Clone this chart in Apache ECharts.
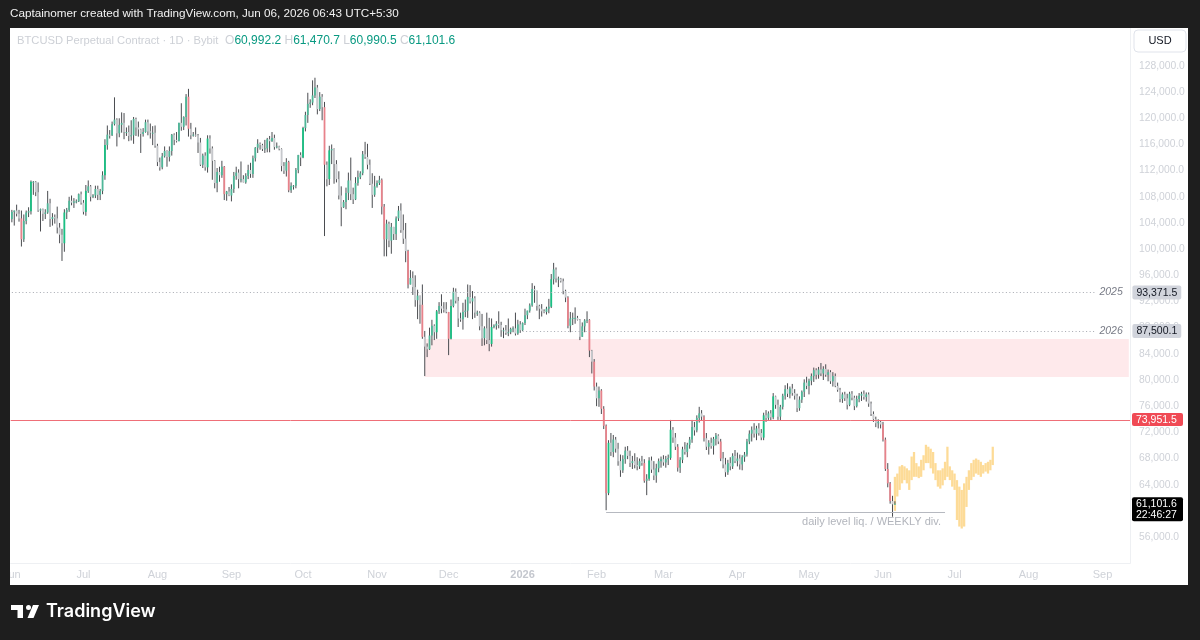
<!DOCTYPE html>
<html>
<head>
<meta charset="utf-8">
<title>BTCUSD Perpetual Contract · 1D · Bybit</title>
<script src="https://cdn.jsdelivr.net/npm/echarts@6/dist/echarts.min.js"></script>
<style>
  html, body { margin: 0; padding: 0; background: #1e1e1e; }
  #chart { width: 1200px; height: 640px; }
</style>
</head>
<body>
<div id="chart"></div>
<script>
// daily candles in thousands of USD, one [high, low, close] per day
// (open of each day = close of the day before)
const firstOpen = 104.6;

const jun25 = [
  [106.0,104.1,105.7],[105.9,103.6,105.9],[106.8,105.0,105.4],[106.0,104.2,104.7],[105.9,100.4,101.5],
  [105.3,101.1,104.3],[105.9,103.8,105.6],[106.4,104.9,105.8],[110.5,105.3,110.3],[110.4,108.3,110.3],
  [110.4,108.1,108.7],[110.2,105.7,105.9],[106.2,102.7,106.1],[106.2,104.3,105.4],[106.1,104.6,105.6],
  [108.9,105.4,107.0],[107.7,103.4,104.6],[105.5,103.6,104.9],[105.3,103.9,104.7],[106.5,102.4,103.3],
  [104.0,100.9,102.2],[103.1,98.2,100.9],[106.1,99.6,105.6],[106.3,104.6,106.0],[108.0,105.7,107.4],
  [108.2,106.7,107.1],[107.8,106.3,107.3],[107.6,107.0,107.3],[108.5,107.2,108.4],[108.8,106.8,107.1]
];
const jul25 = [
  [107.5,105.3,105.7],[109.8,105.1,108.9],[110.5,108.6,109.6],[109.8,107.3,108.0],[108.4,107.8,108.2],
  [109.7,107.8,109.2],[109.7,107.5,108.3],[109.2,107.5,108.9],[111.9,108.4,111.3],[116.8,110.6,115.9],
  [118.9,115.2,117.5],[118.2,116.9,117.4],[119.5,117.3,119.1],[123.2,118.9,119.8],[120.0,115.7,117.7],
  [120.0,117.1,119.0],[120.9,117.8,119.3],[120.8,116.8,117.9],[118.6,117.3,117.9],[118.9,116.5,117.3],
  [119.7,116.6,117.4],[120.2,116.1,119.9],[120.1,117.3,118.6],[119.5,117.2,118.3],[118.4,114.7,117.6],
  [118.5,117.2,117.9],[119.8,117.8,119.4],[119.8,117.4,118.0],[119.2,116.9,117.8],[118.8,115.9,117.8],
  [118.9,115.5,115.8]
];
const aug25 = [
  [116.1,112.7,113.3],[114.0,112.0,112.5],[114.7,112.2,114.2],[115.7,114.0,115.0],[115.1,112.6,114.1],
  [115.7,113.4,115.0],[117.6,114.3,117.5],[117.7,115.9,116.7],[117.9,116.3,116.5],[119.3,116.5,119.3],
  [122.3,118.1,118.7],[120.3,118.2,120.2],[123.7,118.9,123.3],[124.5,117.2,118.4],[119.3,116.8,117.4],
  [117.9,117.2,117.5],[118.6,117.2,117.4],[117.6,114.7,116.3],[117.0,112.7,112.9],[114.6,112.4,114.3],
  [114.8,112.0,112.5],[117.4,111.7,116.9],[117.4,114.6,115.4],[115.7,110.6,113.5],[113.6,109.3,110.1],
  [112.4,108.7,111.8],[112.6,110.3,111.3],[113.5,110.9,112.6],[112.7,107.5,108.4],[108.9,107.4,108.8],
  [109.5,108.1,108.2]
];
const sep25 = [
  [109.9,107.3,109.2],[111.8,108.6,111.2],[112.6,110.6,111.7],[112.2,109.3,110.7],[113.4,110.2,110.7],
  [111.3,110.2,110.2],[111.6,110.0,111.2],[112.9,110.7,112.1],[113.2,110.9,111.5],[114.3,110.9,113.9],
  [115.6,113.4,115.5],[116.8,114.7,116.1],[116.3,115.2,115.9],[116.1,115.0,115.3],[116.7,114.7,115.4],
  [117.0,114.8,116.8],[117.3,114.8,116.5],[117.9,116.4,117.0],[117.5,115.2,115.6],[116.3,115.4,115.7],
  [115.8,115.1,115.3],[115.4,111.9,112.7],[113.3,111.5,112.0],[113.9,111.1,113.3],[113.5,108.7,109.0],
  [110.2,108.6,109.7],[109.8,109.1,109.7],[112.4,109.3,112.1],[114.4,111.6,114.4],[114.8,112.7,114.0]
];
const oct25 = [
  [118.7,113.9,118.5],[121.0,118.0,120.5],[123.9,119.3,122.2],[122.9,121.6,122.4],[125.8,122.0,123.5],
  [126.2,123.1,124.7],[125.1,120.6,121.4],[124.0,121.1,123.3],[123.7,119.7,121.7],[122.5,102.0,112.9],
  [113.4,109.6,110.7],[115.8,109.8,115.1],[116.0,113.0,115.3],[115.4,110.0,113.0],[113.6,110.2,110.7],
  [111.9,107.6,108.2],[109.6,103.5,106.4],[107.5,106.3,107.2],[109.4,106.1,108.6],[111.7,107.5,110.5],
  [114.0,107.5,108.4],[109.4,106.9,107.6],[111.0,107.5,110.1],[112.0,109.7,111.0],[111.9,110.7,111.6],
  [115.0,111.3,114.5],[116.4,113.8,114.1],[116.1,112.2,112.9],[113.7,109.8,110.0],[111.6,106.3,108.3],
  [111.2,108.0,109.6]
];
const nov25 = [
  [110.5,109.4,110.1],[111.2,109.8,110.6],[110.8,105.3,106.5],[106.9,98.9,101.5],[104.5,98.9,103.9],
  [104.2,100.3,101.3],[104.0,99.3,103.4],[103.4,101.4,102.3],[105.0,101.4,104.7],[106.6,104.3,105.9],
  [107.0,102.5,102.9],[105.3,100.8,101.6],[104.0,98.0,99.7],[99.9,94.0,94.6],[96.8,94.6,95.6],
  [96.6,93.0,94.2],[96.0,91.2,92.2],[93.8,89.3,92.9],[92.9,88.6,91.5],[94.6,86.3,86.6],
  [87.5,80.6,85.1],[85.6,83.5,84.7],[88.0,84.6,86.8],[89.2,85.3,88.3],[88.5,86.1,87.3],
  [90.7,86.3,90.5],[91.9,90.1,91.3],[93.1,90.2,90.9],[91.9,90.3,90.8],[91.9,90.2,90.4]
];
const dec25 = [
  [90.4,83.8,86.3],[92.3,86.2,91.3],[94.1,91.1,93.5],[94.0,91.7,92.1],[92.7,88.1,89.4],
  [90.3,88.9,89.3],[91.8,87.7,90.4],[92.3,89.6,90.6],[94.6,89.5,92.7],[94.5,91.7,92.0],
  [93.6,89.3,92.5],[92.8,89.5,90.3],[90.6,89.8,90.3],[90.5,87.6,88.2],[90.1,85.2,86.4],
  [88.2,85.3,87.9],[90.3,85.5,86.1],[89.5,84.4,85.5],[89.4,85.1,88.1],[88.5,87.9,88.3],
  [89.0,87.7,88.6],[90.5,87.9,88.4],[88.9,86.6,87.6],[88.0,86.4,87.6],[88.4,86.9,87.2],
  [89.4,86.7,87.3],[88.0,87.0,87.8],[88.2,87.3,87.9],[90.3,86.8,87.1],[89.2,86.9,88.5],
  [89.0,87.2,87.6]
];
const jan26 = [
  [88.8,87.5,88.7],[90.9,88.4,89.9],[90.6,89.3,90.6],[91.7,90.3,91.4],[94.8,91.2,93.9],
  [94.4,91.8,93.7],[93.6,90.6,91.3],[91.5,89.3,90.9],[91.6,89.7,90.5],[90.8,90.2,90.4],
  [91.2,90.0,90.9],[92.4,90.2,91.2],[96.2,91.0,95.4],[97.9,94.6,96.9],[97.2,94.9,95.5],
  [95.8,94.2,95.5],[95.6,94.9,95.1],[95.5,93.1,93.6],[93.8,91.9,92.6],[92.8,87.9,88.3],
  [90.4,87.3,89.4],[90.3,88.4,89.5],[91.1,88.6,89.5],[89.8,89.1,89.2],[89.3,86.1,86.6],
  [88.8,86.6,88.2],[89.3,87.3,89.1],[90.5,88.7,89.2],[89.3,83.5,84.5],[84.6,81.0,82.8],
  [83.2,78.4,79.0]
];
const feb26 = [
  [79.6,76.0,77.2],[79.0,75.9,78.4],[78.6,74.8,75.6],[76.0,72.5,73.0],[73.2,60.1,62.7],
  [70.8,62.4,70.4],[71.9,68.4,69.0],[71.6,68.2,70.9],[71.3,68.9,69.5],[70.4,66.9,67.6],
  [68.6,65.2,66.2],[68.5,65.8,67.9],[69.8,67.2,69.2],[69.9,67.9,68.4],[69.2,66.7,67.3],
  [68.4,66.4,67.6],[68.8,66.5,67.0],[68.2,66.2,66.8],[68.0,66.4,67.6],[68.4,66.9,67.3],
  [67.9,64.3,64.6],[65.6,62.4,64.9],[68.2,64.6,67.7],[68.3,65.8,66.3],[67.6,64.7,65.4],
  [67.2,64.3,66.5],[68.0,65.9,67.6],[68.3,66.6,67.9]
];
const mar26 = [
  [68.5,66.9,67.4],[68.4,66.6,67.9],[68.6,67.0,68.1],[73.9,67.8,72.4],[72.8,70.4,71.2],
  [71.9,69.3,69.8],[70.2,66.0,66.6],[68.2,65.8,67.8],[69.8,67.3,69.4],[70.5,68.6,69.0],
  [70.4,68.2,70.1],[71.3,69.5,70.9],[73.9,70.4,72.8],[73.6,71.5,72.3],[74.6,72.0,74.2],
  [75.9,73.5,74.9],[75.4,73.8,74.4],[74.6,70.6,71.1],[71.9,69.3,69.8],[70.8,68.6,70.4],
  [71.2,69.5,69.9],[71.3,68.6,71.0],[71.9,70.0,71.5],[71.7,70.2,70.6],[71.0,67.6,68.0],
  [69.0,66.5,67.1],[68.1,65.2,65.9],[67.8,65.5,67.3],[68.2,66.2,66.8],[68.8,66.4,68.4],
  [69.3,67.3,67.6]
];
const apr26 = [
  [68.9,66.8,68.0],[68.6,66.3,67.1],[68.5,66.2,68.2],[69.0,67.5,68.6],[71.0,68.3,70.6],
  [72.3,70.2,71.8],[72.9,70.6,72.4],[73.4,71.2,71.8],[73.0,70.8,72.6],[73.4,71.5,71.9],
  [72.5,70.8,71.2],[75.0,70.8,74.6],[75.4,73.6,74.2],[75.2,73.9,74.9],[75.4,73.8,74.3],
  [78.0,74.0,77.5],[77.6,75.6,76.2],[77.0,73.9,74.4],[76.2,73.8,75.9],[77.9,75.5,77.6],
  [79.2,77.0,78.6],[79.5,77.4,77.9],[79.0,77.2,78.7],[79.4,77.6,78.0],[78.6,77.0,77.6],
  [77.9,75.1,75.7],[77.5,75.3,77.0],[78.4,76.5,78.2],[80.1,77.4,79.6],[80.5,78.6,79.1]
];
const may26 = [
  [80.2,77.8,79.9],[81.0,79.2,80.6],[81.9,79.7,81.5],[81.8,80.1,80.8],[82.0,80.2,81.6],
  [82.6,80.6,81.0],[82.1,80.0,81.7],[82.4,80.5,80.8],[81.6,79.8,81.2],[81.5,79.4,79.8],
  [81.2,79.0,80.6],[81.0,78.9,79.1],[79.6,78.2,78.5],[78.8,76.6,77.1],[78.1,76.5,77.8],
  [78.2,76.8,77.2],[77.9,75.5,76.2],[78.2,76.0,77.9],[78.3,76.9,77.3],[77.6,75.4,76.0],
  [77.6,75.8,77.1],[78.0,76.6,77.6],[78.2,76.8,77.9],[78.4,77.0,77.4],[78.1,76.7,77.8],
  [78.1,75.9,76.4],[76.7,74.5,74.8],[75.2,73.6,74.0],[74.4,72.8,73.4],[74.0,72.6,73.6],
  [73.8,72.6,73.2]
];
const jun26 = [
  [73.6,70.6,70.9],[71.2,66.1,66.4],[67.3,63.6,64.2],[64.4,61.1,61.5],[62.3,59.1,60.9922],
  [61.4707,60.9905,61.1016]
];

// projected path (yellow), one [high, low] per day from Jun 6 2026
const ghostStart = '2026-06-06';
const ghost = [
  [65.2,60.0],[65.7,62.2],[66.8,63.2],[67.0,64.2],[66.8,64.7],[66.5,64.2],[66.2,63.2],
  [68.3,64.7],[69.0,65.2],[67.3,65.2],[66.8,65.0],[67.8,65.2],[68.5,66.2],[70.1,67.3],
  [69.8,67.3],[69.5,66.5],[69.0,65.7],[67.3,64.7],[66.2,63.7],[66.2,63.4],[66.5,63.9],
  [67.5,64.7],[69.8,65.2],[66.8,64.7],[66.2,63.7],[65.7,63.2],[64.7,58.6],[63.7,57.6],
  [63.2,57.3],[64.2,57.6],[65.2,60.6],[66.2,63.2],[67.3,64.7],[67.8,65.2],[68.0,65.7],
  [67.8,65.5],[67.5,65.2],[67.0,65.7],[67.3,66.0],[67.5,65.7],[67.8,66.2],[69.8,67.0]
];

// drawn levels
const open2025 = 93371.5;
const open2026 = 87500.1;
const redLevel = 73951.5;
const liqLevel = 59800;
const liqFrom = '2026-02-05';
const liqTo = '2026-06-27';
const zoneTop = 86270;
const zoneBottom = 80460;
const zoneFrom = '2025-11-21';
const countdown = '22:46:27';

const monthNames = ['Jan','Feb','Mar','Apr','May','Jun','Jul','Aug','Sep','Oct','Nov','Dec'];
const axisStart = Date.UTC(2025, 5, 1);
const axisDays = 469;

const dates = [];
for (let i = 0; i < axisDays; i++) {
  dates.push(new Date(axisStart + i * 86400000).toISOString().slice(0, 10));
}

const candles = [];
let prevClose = firstOpen;
[jun25, jul25, aug25, sep25, oct25, nov25, dec25, jan26, feb26, mar26, apr26, may26, jun26]
  .flat()
  .forEach((d, i) => {
    candles.push([i, prevClose * 1000, d[0] * 1000, d[1] * 1000, d[2] * 1000]);
    prevClose = d[2];
  });

const g0 = dates.indexOf(ghostStart);
const ghostBars = ghost.map((g, k) => [g0 + k, g[0] * 1000, g[1] * 1000]);

const last = candles[candles.length - 1];
const lastDate = dates[dates.length - 1];
const fmt = v => v.toLocaleString('en-US', { minimumFractionDigits: 1, maximumFractionDigits: 1 });

const upColor = '#4fb899';
const downColor = '#c6c8cc';
const strongUp = '#19c184';
const strongDown = '#e8828b';
const wickColor = '#4a4c50';
const axisText = '#cfd2d8';
const FONT = '"Liberation Sans", Arial, sans-serif';

function renderCandle(params, api) {
  const i = api.value(0);
  const o = api.value(1), h = api.value(2), l = api.value(3), c = api.value(4);
  const band = api.size([1, 0])[0];
  const pH = api.coord([i, h]);
  const pL = api.coord([i, l]);
  const pT = api.coord([i, Math.max(o, c)]);
  const pB = api.coord([i, Math.min(o, c)]);
  const move = (c - o) / o;
  let fill = c >= o ? upColor : downColor;
  if (move > 0.03) fill = strongUp;
  if (move < -0.03) fill = strongDown;
  const w = band * 0.75;
  return {
    type: 'group',
    children: [
      { type: 'line', shape: { x1: pH[0], y1: pH[1], x2: pL[0], y2: pL[1] },
        style: { stroke: wickColor, lineWidth: 1 } },
      { type: 'rect', shape: { x: pT[0] - w / 2, y: pT[1], width: w, height: Math.max(1, pB[1] - pT[1]) },
        style: { fill: fill } }
    ]
  };
}

function renderGhost(params, api) {
  const i = api.value(0);
  const pH = api.coord([i, api.value(1)]);
  const pL = api.coord([i, api.value(2)]);
  const w = api.size([1, 0])[0] * 0.95;
  return {
    type: 'rect',
    shape: { x: pH[0] - w / 2, y: pH[1], width: w, height: pL[1] - pH[1] },
    style: { fill: 'rgba(252,200,95,0.65)' }
  };
}

// horizontal level across the whole plot, snapped to a pixel row
function renderLevel(params, api) {
  const y = Math.round(api.coord([0, api.value(1)])[1]) + 0.5;
  const cs = params.coordSys;
  return {
    type: 'line',
    shape: { x1: cs.x, y1: y, x2: cs.x + cs.width, y2: y },
    style: { stroke: '#ef6f78', lineWidth: 1 }
  };
}

const badge = { fontSize: 10.5, padding: [2, 4, 1, 4], borderRadius: 2, fontFamily: FONT };

const yearLabel = (year, value) => ({
  show: true,
  position: 'end',
  distance: 4,
  formatter: '{y|' + year + '}{b|' + fmt(value) + '}',
  rich: {
    y: { fontStyle: 'italic', color: '#787b86', fontSize: 10.5, width: 33, fontFamily: FONT },
    b: Object.assign({ backgroundColor: '#d1d4dc', color: '#131722' }, badge)
  }
});

const chart = echarts.init(document.getElementById('chart'));
chart.setOption({
  animation: false,
  backgroundColor: '#ffffff',
  textStyle: { fontFamily: FONT },
  grid: { left: 10, right: 70, top: 28, bottom: 76.8 },
  xAxis: {
    type: 'category',
    data: dates,
    boundaryGap: true,
    axisTick: { show: false },
    axisLine: { lineStyle: { color: '#eef0f3' } },
    splitLine: { show: false },
    axisLabel: {
      interval: (idx, val) => val.slice(8) === '01',
      formatter: val => {
        const m = +val.slice(5, 7);
        return m === 1 ? '{y|' + val.slice(0, 4) + '}' : monthNames[m - 1];
      },
      color: axisText,
      fontSize: 11,
      margin: 6,
      rich: { y: { fontWeight: 'bold', color: '#c4c7ce', fontSize: 11 } }
    }
  },
  yAxis: {
    type: 'value',
    position: 'right',
    min: 52000,
    max: 133800,
    interval: 4000,
    axisTick: { show: false },
    axisLine: { show: true, lineStyle: { color: '#eef0f3' } },
    splitLine: { show: false },
    axisLabel: {
      formatter: v => fmt(v),
      color: axisText,
      fontSize: 10.3,
      margin: 9,
      showMinLabel: false,
      showMaxLabel: false
    }
  },
  series: [
    {
      type: 'custom',
      name: 'projection',
      renderItem: renderGhost,
      encode: { x: 0, y: [1, 2] },
      data: ghostBars,
      z: 1
    },
    {
      type: 'custom',
      name: 'level',
      renderItem: renderLevel,
      encode: { x: 0, y: 1 },
      data: [[0, redLevel]],
      z: 3
    },
    {
      type: 'custom',
      name: 'BTCUSD',
      renderItem: renderCandle,
      encode: { x: 0, y: [1, 2, 3, 4] },
      data: candles,
      z: 2,
      markArea: {
        silent: true,
        itemStyle: { color: 'rgba(242,54,69,0.11)' },
        data: [[{ coord: [zoneFrom, zoneTop] }, { coord: [lastDate, zoneBottom] }]]
      },
      markLine: {
        silent: true,
        symbol: 'none',
        data: [
          [{ coord: [dates[0], open2025], lineStyle: { type: [1, 2.5], color: '#a6a9b1', width: 1 },
             label: yearLabel('2025', open2025) },
           { coord: [dates[454], open2025] }],
          [{ coord: ['2026-01-01', open2026], lineStyle: { type: [1, 2.5], color: '#a6a9b1', width: 1 },
             label: yearLabel('2026', open2026) },
           { coord: [dates[454], open2026] }],
          [{ coord: [liqFrom, liqLevel], lineStyle: { type: 'solid', color: '#b6b9c0', width: 1 },
             label: { show: true, position: 'insideEndBottom', distance: 4,
                      formatter: 'daily level liq. / WEEKLY div.', color: '#b2b5bc', fontSize: 11 } },
           { coord: [liqTo, liqLevel] }]
        ]
      }
    }
  ]
});

const yLast = chart.convertToPixel({ yAxisIndex: 0 }, last[4]);
const yRed = chart.convertToPixel({ yAxisIndex: 0 }, redLevel);
const legendRich = '{t|BTCUSD Perpetual Contract · 1D · Bybit}  ' +
  '{k|O}{v|' + fmt(last[1]) + '} {k|H}{v|' + fmt(last[2]) + '} ' +
  '{k|L}{v|' + fmt(last[3]) + '} {k|C}{v|' + fmt(last[4]) + '}';

chart.setOption({
  graphic: [
    { type: 'rect', z: 100, shape: { x: 0, y: 0, width: 1200, height: 28 }, style: { fill: '#1e1e1e' } },
    { type: 'rect', z: 100, shape: { x: 0, y: 585, width: 1200, height: 55 }, style: { fill: '#1e1e1e' } },
    { type: 'rect', z: 100, shape: { x: 0, y: 0, width: 10, height: 640 }, style: { fill: '#1e1e1e' } },
    { type: 'rect', z: 100, shape: { x: 1188, y: 0, width: 12, height: 640 }, style: { fill: '#1e1e1e' } },
    { type: 'text', z: 101, x: 10, y: 14,
      style: { text: 'Captainomer created with TradingView.com, Jun 06, 2026 06:43 UTC+5:30',
               fill: '#f2f2f2', font: '11.7px ' + FONT, verticalAlign: 'middle' } },
    { type: 'text', z: 101, x: 17, y: 41,
      style: {
        text: legendRich, verticalAlign: 'middle', font: '12px ' + FONT,
        rich: {
          t: { fill: '#cdd0d6', fontSize: 11.2, fontFamily: FONT },
          k: { fill: '#cdd0d6', fontSize: 12, fontFamily: FONT },
          v: { fill: '#089981', fontSize: 12, fontFamily: FONT }
        }
      } },
    { type: 'rect', z: 101, shape: { x: 1134, y: 30, width: 52, height: 22, r: 4 },
      style: { fill: '#ffffff', stroke: '#e0e3eb', lineWidth: 1 } },
    { type: 'text', z: 102, x: 1160, y: 41,
      style: { text: 'USD', fill: '#131722', font: '11px ' + FONT, align: 'center', verticalAlign: 'middle' } },
    // red level badge
    { type: 'rect', z: 101, shape: { x: 1132, y: yRed - 6.5, width: 51, height: 13, r: 2 },
      style: { fill: '#f04a55' } },
    { type: 'text', z: 102, x: 1136, y: yRed + 0.5,
      style: { text: fmt(redLevel), fill: '#ffffff', font: '10.5px ' + FONT, verticalAlign: 'middle' } },
    // last price badge
    { type: 'rect', z: 101, shape: { x: 1132, y: yLast - 6.5, width: 51, height: 24, r: 2 },
      style: { fill: '#000000' } },
    { type: 'text', z: 102, x: 1136, y: yLast,
      style: { text: fmt(last[4]), fill: '#ffffff', font: '10.5px ' + FONT, verticalAlign: 'middle' } },
    { type: 'text', z: 102, x: 1136, y: yLast + 11.5,
      style: { text: countdown, fill: '#ffffff', font: '10.5px ' + FONT, verticalAlign: 'middle' } },
    // TradingView logo
    { type: 'rect', z: 101, shape: { x: 11, y: 605, width: 12, height: 5 }, style: { fill: '#ffffff' } },
    { type: 'rect', z: 101, shape: { x: 17.5, y: 605, width: 5.5, height: 13 }, style: { fill: '#ffffff' } },
    { type: 'circle', z: 101, shape: { cx: 28.5, cy: 607.5, r: 2.5 }, style: { fill: '#ffffff' } },
    { type: 'polygon', z: 101, shape: { points: [[33, 605], [39, 605], [33.5, 618], [27.5, 618]] },
      style: { fill: '#ffffff' } },
    { type: 'text', z: 101, x: 46, y: 612,
      style: { text: 'TradingView', fill: '#ffffff', font: '600 18px Inter, ' + FONT, verticalAlign: 'middle' } }
  ]
});
</script>
</body>
</html>
